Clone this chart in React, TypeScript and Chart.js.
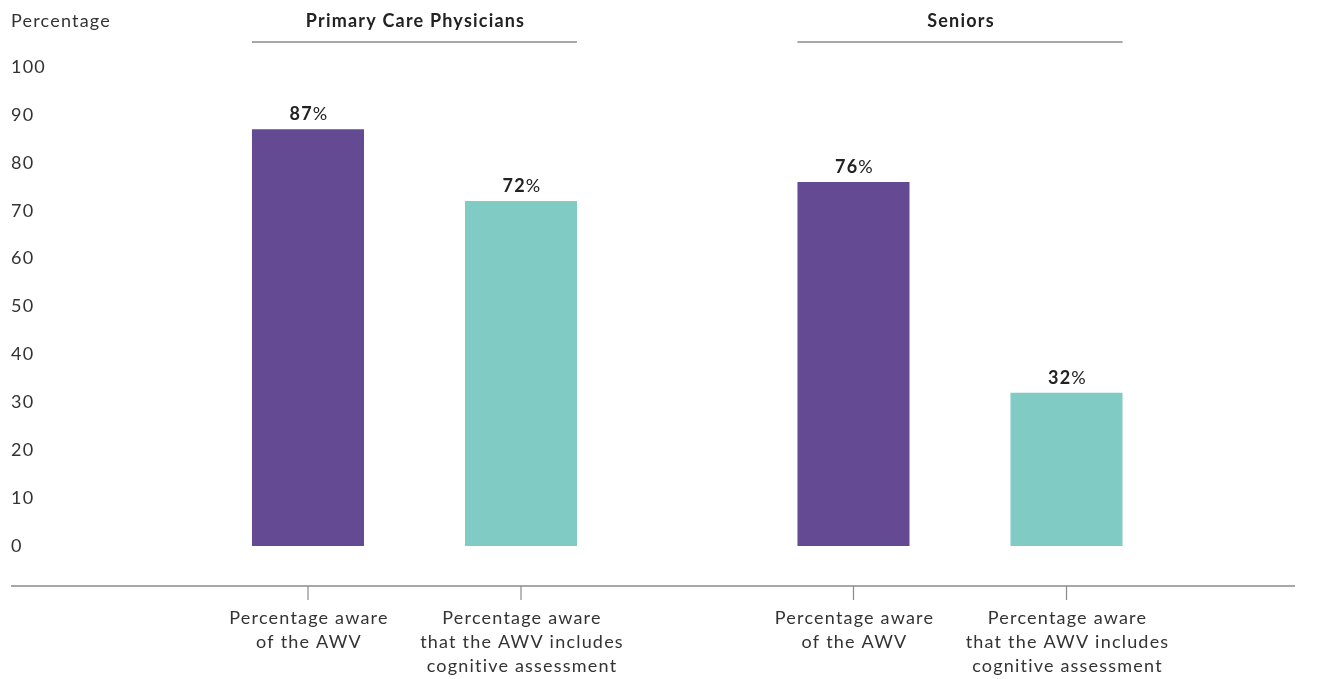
import React, { useEffect, useRef } from "react";
import { Chart, registerables } from "chart.js";

Chart.register(...registerables);

const groups = ["Primary Care Physicians", "Seniors"];
const seriesLabels: string[][] = [
  ["Percentage aware", "of the AWV"],
  ["Percentage aware", "that the AWV includes", "cognitive assessment"],
];
const awareOfAWV = [87, 76];
const awareOfCognitive = [72, 32];
const seriesColors = ["#644a92", "#80ccc4"];
const yAxisTitle = "Percentage";

const FONT = "Lato, 'Open Sans', sans-serif";
const SIZE = 18;
const SPACING = "1.2px";

const spacingPlugin = {
  id: "spacing",
  beforeDraw(chart: any) {
    (chart.ctx as any).letterSpacing = SPACING;
  },
};

const decorPlugin = {
  id: "decor",
  afterDraw(chart: any) {
    const ctx = chart.ctx as CanvasRenderingContext2D;
    const area = chart.chartArea;
    const m0 = chart.getDatasetMeta(0);
    const m1 = chart.getDatasetMeta(1);
    ctx.save();
    (ctx as any).letterSpacing = SPACING;
    // y-axis title
    ctx.fillStyle = "#333333";
    ctx.font = `400 ${SIZE}px ${FONT}`;
    ctx.textAlign = "left";
    ctx.textBaseline = "middle";
    ctx.fillText(yAxisTitle, 3, 13.5);

    // group headers and lines
    groups.forEach((g, i) => {
      const b0 = m0.data[i];
      const b1 = m1.data[i];
      const left = b0.x - b0.width / 2;
      const right = b1.x + b1.width / 2;
      ctx.fillStyle = "#222222";
      ctx.font = `700 ${SIZE}px ${FONT}`;
      ctx.textAlign = "center";
      ctx.textBaseline = "middle";
      ctx.fillText(g, (left + right) / 2 + 1, 13.5);
      ctx.strokeStyle = "#8a8a8a";
      ctx.lineWidth = 1.5;
      ctx.beginPath();
      ctx.moveTo(left, 34);
      ctx.lineTo(right, 34);
      ctx.stroke();
    });

    // axis line
    const axisY = area.bottom + 40;
    ctx.strokeStyle = "#8a8a8a";
    ctx.lineWidth = 1.5;
    ctx.beginPath();
    ctx.moveTo(3, axisY);
    ctx.lineTo(1287, axisY);
    ctx.stroke();

    // ticks, category labels, value labels
    [m0, m1].forEach((meta, di) => {
      meta.data.forEach((bar: any, i: number) => {
        ctx.strokeStyle = "#8a8a8a";
        ctx.lineWidth = 1.2;
        ctx.beginPath();
        ctx.moveTo(bar.x, axisY);
        ctx.lineTo(bar.x, axisY + 14);
        ctx.stroke();

        ctx.fillStyle = "#333333";
        ctx.font = `400 ${SIZE}px ${FONT}`;
        ctx.textAlign = "center";
        ctx.textBaseline = "middle";
        seriesLabels[di].forEach((line, li) => {
          ctx.fillText(line, bar.x + 1, axisY + 32 + li * 24);
        });

        const value = chart.data.datasets[di].data[i];
        const num = String(value);
        ctx.font = `700 ${SIZE}px ${FONT}`;
        const wNum = ctx.measureText(num).width;
        ctx.font = `400 ${SIZE}px ${FONT}`;
        const wPct = ctx.measureText("%").width;
        const startX = bar.x - (wNum + wPct) / 2 + 1;
        ctx.textAlign = "left";
        ctx.textBaseline = "alphabetic";
        ctx.fillStyle = "#222222";
        ctx.font = `700 ${SIZE}px ${FONT}`;
        ctx.fillText(num, startX, bar.y - 9);
        ctx.font = `400 ${SIZE}px ${FONT}`;
        ctx.fillText("%", startX + wNum, bar.y - 9);
      });
    });
    ctx.restore();
  },
};

export default function App() {
  const ref = useRef<HTMLCanvasElement | null>(null);
  useEffect(() => {
    if (!ref.current) return;
    const chart = new Chart(ref.current, {
      type: "bar",
      data: {
        labels: groups,
        datasets: [
          {
            label: seriesLabels[0].join(" "),
            data: awareOfAWV,
            backgroundColor: seriesColors[0],
            categoryPercentage: 0.781,
            barPercentage: 0.526,
          },
          {
            label: seriesLabels[1].join(" "),
            data: awareOfCognitive,
            backgroundColor: seriesColors[1],
            categoryPercentage: 0.781,
            barPercentage: 0.526,
          },
        ],
      },
      options: {
        animation: false,
        responsive: false,
        maintainAspectRatio: false,
        layout: { padding: { top: 59, bottom: 133, left: 3, right: 83.25 } },
        plugins: {
          legend: { display: false },
          tooltip: { enabled: false },
          title: { display: false },
        },
        scales: {
          x: { display: false },
          y: {
            min: 0,
            max: 100,
            grid: { display: false },
            border: { display: false },
            afterFit: (scale: any) => {
              scale.width = 130.75;
            },
            ticks: {
              stepSize: 10,
              crossAlign: "far",
              color: "#333333",
              font: { family: FONT, size: SIZE, weight: "400" as any },
            },
          },
        },
      },
      plugins: [spacingPlugin, decorPlugin],
    });
    return () => chart.destroy();
  }, []);
  return (
    <div style={{ width: 1308, height: 671 }}>
      <canvas ref={ref} width={1308} height={671} style={{ display: "block" }} />
    </div>
  );
}
